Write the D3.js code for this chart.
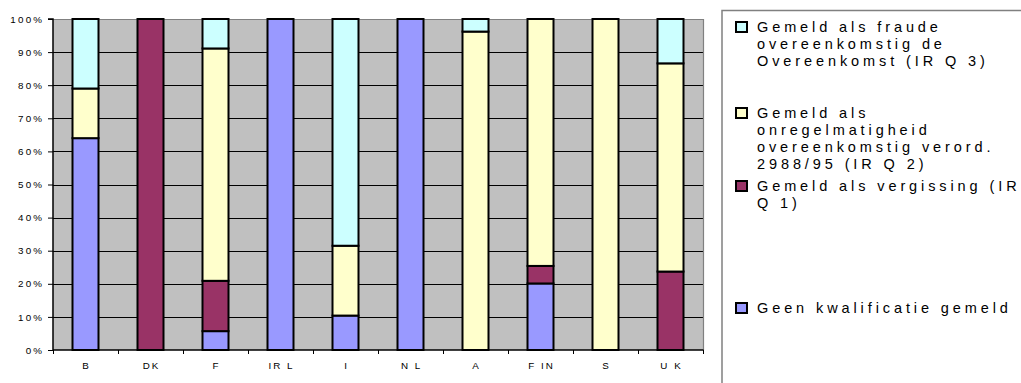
<!DOCTYPE html>
<html>
<head>
<meta charset="utf-8">
<script src="https://cdn.jsdelivr.net/npm/d3@7/dist/d3.min.js"></script>
<style>
  html, body { margin: 0; padding: 0; background: #fff; }
  svg { display: block; font-family: "Liberation Sans", Arial, sans-serif; }
</style>
</head>
<body>
<svg id="chart" width="1021" height="383"></svg>
<script>
// Member states
const categories = ["B", "DK", "F", "IRL", "I", "NL", "A", "FIN", "S", "UK"];
// Axis labels shown under each bar
const categoryLabels = ["B", "DK", "F", "IR L", "I", "N L", "A", "F IN", "S", "U K"];

// Share of cases per qualification (percent), bottom to top
const geenKwalificatie = [64, 0, 5.7, 100, 10.4, 100, 0, 20.1, 0, 0];
const vergissing       = [0, 100, 15.2, 0, 0, 0, 0, 5.3, 0, 23.7];
const onregelmatigheid = [15, 0, 70.2, 0, 21.1, 0, 96.2, 74.6, 100, 62.9];
const fraude           = [21, 0, 8.9, 0, 68.5, 0, 3.8, 0, 0, 13.4];

// Y axis ticks
const yTicks = [0, 10, 20, 30, 40, 50, 60, 70, 80, 90, 100];

const seriesKeys = ["geen", "vergissing", "onregelmatigheid", "fraude"];
const seriesColors = {
  geen: "#9999FF",
  vergissing: "#993366",
  onregelmatigheid: "#FFFFCC",
  fraude: "#CCFFFF"
};

const rows = categories.map((c, i) => ({
  cat: c,
  geen: geenKwalificatie[i],
  vergissing: vergissing[i],
  onregelmatigheid: onregelmatigheid[i],
  fraude: fraude[i]
}));

const svg = d3.select("#chart");
const plot = { left: 53, right: 703, top: 19, bottom: 350 };

const x = d3.scaleBand()
  .domain(categories)
  .range([plot.left, plot.right])
  .paddingInner(0.6)
  .paddingOuter(0.3);

const y = d3.scaleLinear().domain([0, 100]).range([plot.bottom, plot.top]);

// plot background
svg.append("rect")
  .attr("x", plot.left).attr("y", plot.top)
  .attr("width", plot.right - plot.left).attr("height", plot.bottom - plot.top)
  .attr("fill", "#C0C0C0");

// horizontal gridlines
svg.append("g")
  .selectAll("line")
  .data(yTicks.filter(t => t > 0 && t < 100))
  .join("line")
  .attr("x1", plot.left).attr("x2", plot.right)
  .attr("y1", d => Math.round(y(d)) + 0.5).attr("y2", d => Math.round(y(d)) + 0.5)
  .attr("stroke", "#000").attr("stroke-width", 1);

// top and right frame of the plot area
svg.append("path")
  .attr("d", `M${plot.left},${plot.top + 0.5}H${plot.right + 0.5}V${plot.bottom}`)
  .attr("fill", "none").attr("stroke", "#808080").attr("stroke-width", 1.2);

// stacked bars
const stack = d3.stack().keys(seriesKeys);
const stacked = stack(rows);

svg.append("g")
  .selectAll("g")
  .data(stacked)
  .join("g")
  .attr("fill", d => seriesColors[d.key])
  .selectAll("rect")
  .data(d => d.filter(s => s[1] - s[0] > 0))
  .join("rect")
  .attr("x", d => x(d.data.cat))
  .attr("y", d => y(d[1]))
  .attr("width", x.bandwidth())
  .attr("height", d => y(d[0]) - y(d[1]))
  .attr("stroke", "#000")
  .attr("stroke-width", 2);

// y axis
const yAxis = d3.axisLeft(y)
  .tickValues(yTicks)
  .tickSize(5)
  .tickPadding(6)
  .tickFormat(d => d + "%");
const yg = svg.append("g")
  .attr("transform", `translate(${plot.left},0)`)
  .call(yAxis);
yg.select(".domain").attr("stroke", "#000").attr("stroke-width", 1.5).attr("d", `M-5,${plot.top}H0V${plot.bottom}`);
yg.selectAll(".tick line").attr("stroke", "#000");
yg.selectAll(".tick text")
  .attr("font-size", 9.8)
  .attr("fill", "#000")
  .style("letter-spacing", "2.2px")
  .attr("dx", 2.2)
  .attr("font-family", "Liberation Sans, Arial, sans-serif");

// x axis with tick marks on the category boundaries
const xg = svg.append("g").attr("transform", `translate(0,${plot.bottom})`);
xg.append("line")
  .attr("x1", plot.left).attr("x2", plot.right + 0.5)
  .attr("y1", 0).attr("y2", 0)
  .attr("stroke", "#000").attr("stroke-width", 1.5);
const boundaries = categories.map(c => x(c) - x.step() * x.paddingInner() / 2)
  .concat([plot.right]);
xg.selectAll("line.tk")
  .data(boundaries)
  .join("line")
  .attr("class", "tk")
  .attr("x1", d => Math.round(d) + 0.5).attr("x2", d => Math.round(d) + 0.5)
  .attr("y1", 0).attr("y2", 4)
  .attr("stroke", "#000").attr("stroke-width", 1);
xg.selectAll("text")
  .data(categories)
  .join("text")
  .attr("x", d => x(d) + x.bandwidth() / 2 + 1)
  .attr("y", 19)
  .attr("text-anchor", "middle")
  .attr("font-size", 9.8)
  .style("letter-spacing", "2px")
  .text((d, i) => categoryLabels[i]);

// legend
svg.append("rect")
  .attr("x", 722).attr("y", 10.5)
  .attr("width", 320).attr("height", 400)
  .attr("fill", "#fff").attr("stroke", "#808080").attr("stroke-width", 1.5);

const legendItems = [
  { key: "fraude", lines: ["Gemeld als fraude", "overeenkomstig de", "Overeenkomst (IR Q 3)"], top: 27 },
  { key: "onregelmatigheid", lines: ["Gemeld als", "onregelmatigheid", "overeenkomstig verord.", "2988/95 (IR Q 2)"], top: 113 },
  { key: "vergissing", lines: ["Gemeld als vergissing (IR", "Q 1)"], top: 186 },
  { key: "geen", lines: ["Geen kwalificatie gemeld"], top: 308 }
];
const lineH = 17;

const lg = svg.append("g").selectAll("g")
  .data(legendItems)
  .join("g");

lg.append("rect")
  .attr("x", 736).attr("y", d => d.top - 5)
  .attr("width", 11).attr("height", 10)
  .attr("fill", d => seriesColors[d.key])
  .attr("stroke", "#000").attr("stroke-width", 2);

lg.append("text")
  .attr("font-size", 14.5)
  .attr("fill", "#000")
  .style("letter-spacing", "3.9px")
  .selectAll("tspan")
  .data(d => d.lines.map((t, i) => ({ t, y: d.top + i * lineH })))
  .join("tspan")
  .attr("x", 757)
  .attr("y", d => d.y + 5)
  .text(d => d.t);
</script>
</body>
</html>
